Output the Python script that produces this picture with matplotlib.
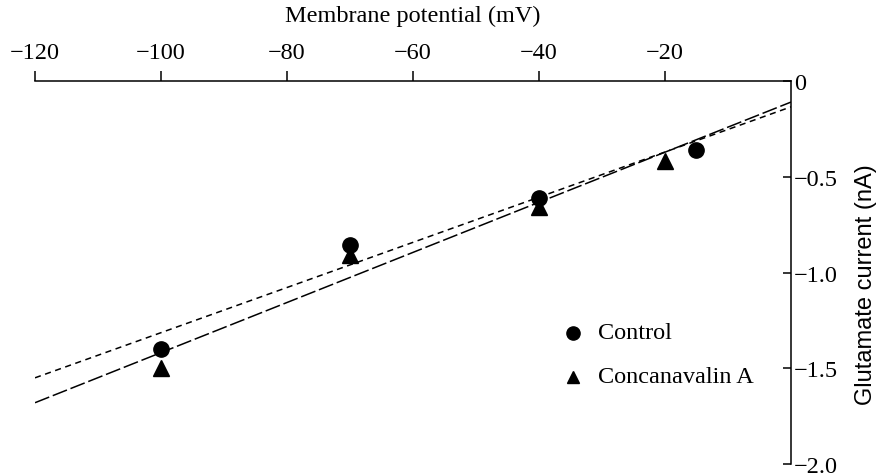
import numpy as np
import matplotlib
matplotlib.use('Agg')
import matplotlib.pyplot as plt

plt.rcParams['font.family'] = ['Liberation Serif', 'DejaVu Serif']

# data
voltage_control = [-100, -70, -40, -15]
current_control = [-1.40, -0.855, -0.61, -0.36]
voltage_cona = [-100, -70, -40, -20]
current_cona = [-1.50, -0.91, -0.66, -0.42]

# fitted lines, end points
fit_x = [-120, 0]
fit_short = [-1.55, -0.135]
fit_long = [-1.68, -0.11]

x_ticks = [-120, -100, -80, -60, -40, -20]
y_ticks = [0, -0.5, -1.0, -1.5, -2.0]
y_ticklabels = ['0', '\u22120.5', '\u22121.0', '\u22121.5', '\u22122.0']

fs = 17.5

fig = plt.figure(figsize=(8.79, 4.77), dpi=100)
ax = fig.add_axes([35/879, 1-465/477, (791-35)/879, (465-82)/477])

ax.plot(fit_x, fit_short, color='black', lw=1.1, dashes=(4, 3))
ax.plot(fit_x, fit_long, color='black', lw=1.1, dashes=(10, 2.5))

ax.plot(voltage_control, current_control, 'o', color='black', ms=11, clip_on=False)
ax.plot(voltage_cona, current_cona, '^', color='black', ms=11, clip_on=False)

# legend drawn by hand as in the original
ax.plot([-34.6], [-1.315], 'o', color='black', ms=9.5)
ax.plot([-34.6], [-1.545], '^', color='black', ms=8.5)
ax.text(-30.6, -1.315, 'Control', fontsize=fs, va='center', ha='left')
ax.text(-30.6, -1.545, 'Concanavalin A', fontsize=fs, va='center', ha='left')

ax.set_xlim(-120, 0)
ax.set_ylim(-2.0, 0)

ax.spines['left'].set_visible(False)
ax.spines['bottom'].set_visible(False)
ax.spines['top'].set_linewidth(1.1)
ax.spines['right'].set_linewidth(1.1)

ax.xaxis.tick_top()
ax.xaxis.set_label_position('top')
ax.set_xticks(x_ticks)
ax.set_xticklabels(['\u2212' + str(abs(t)) for t in x_ticks])
ax.tick_params(axis='x', direction='out', length=7, width=1.1, labelsize=fs, pad=6)

ax.yaxis.tick_right()
ax.yaxis.set_label_position('right')
ax.set_yticks(y_ticks)
ax.set_yticklabels(y_ticklabels)
ax.tick_params(axis='y', direction='in', length=6, width=1.1, labelsize=fs, pad=2)

ax.set_xlabel('Membrane potential (mV)', fontsize=fs, labelpad=15)
ax.set_ylabel('Glutamate current (nA)', fontsize=17,
              family=['Liberation Sans Narrow', 'Liberation Sans', 'DejaVu Sans'])
ax.yaxis.set_label_coords(1.099, 0.47)
ax.yaxis.label.set_verticalalignment('center')

plt.savefig('out.png', dpi=100)
